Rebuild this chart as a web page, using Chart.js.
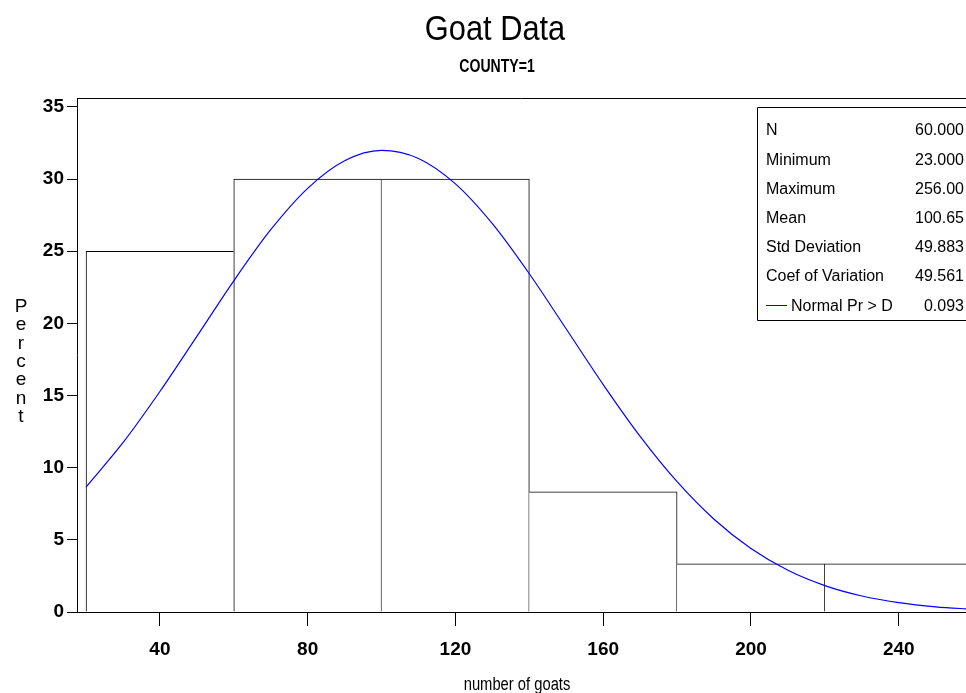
<!DOCTYPE html>
<html>
<head>
<meta charset="utf-8">
<script src="https://cdn.jsdelivr.net/npm/chart.js@4.4.1/dist/chart.umd.min.js"></script>
<style>
html,body{margin:0;padding:0;background:#fff;}
#wrap{width:966px;height:693px;}
</style>
</head>
<body>
<div id="wrap"><canvas id="c" width="966" height="693"></canvas></div>
<script>
// ---- data ----
const binMidpoints = [40, 80, 120, 160, 200, 240];
const binPercents = [25, 30, 30, 8.333, 3.333, 3.333];
const curveX = [20, 30, 40, 50, 60, 70, 80, 90, 100, 110, 120, 130, 140, 150, 160, 170, 180, 190, 200, 210, 220, 230, 240, 250, 260];
const curveY = [8.66, 11.73, 15.28, 19.10, 22.95, 26.49, 29.36, 31.27, 31.99, 31.43, 29.67, 26.91, 23.44, 19.61, 15.76, 12.17, 9.03, 6.43, 4.40, 2.89, 1.83, 1.11, 0.65, 0.36, 0.19];
const xTickValues = [40, 80, 120, 160, 200, 240];
const yTickValues = [0, 5, 10, 15, 20, 25, 30, 35];
const statLabels = ["N", "Minimum", "Maximum", "Mean", "Std Deviation", "Coef of Variation", "Normal Pr > D"];
const statValues = ["60.000", "23.000", "256.00", "100.65", "49.883", "49.561", "0.093"];
const titleText = "Goat Data";
const subtitleText = "COUNTY=1";
const xAxisTitle = "number of goats";
const yAxisTitle = "Percent";

function drawScaledText(ctx, text, x, y, font, sx, align) {
  ctx.save();
  ctx.font = font;
  ctx.fillStyle = "#000";
  ctx.textBaseline = "alphabetic";
  ctx.textAlign = align || "center";
  ctx.translate(x, y);
  ctx.scale(sx, 1);
  ctx.fillText(text, 0, 0);
  ctx.restore();
}

const decor = {
  id: "decor",
  afterDraw(chart) {
    const ctx = chart.ctx;
    const a = chart.chartArea;
    ctx.save();
    ctx.strokeStyle = "#000";
    ctx.lineWidth = 1;
    ctx.beginPath();
    ctx.moveTo(a.left, Math.round(a.top) + 0.5);
    ctx.lineTo(a.right, Math.round(a.top) + 0.5);
    ctx.stroke();
    ctx.restore();

    drawScaledText(ctx, titleText, 495, 40, "35px 'Liberation Sans'", 0.88, "center");
    drawScaledText(ctx, subtitleText, 497, 72, "bold 19px 'Liberation Sans'", 0.74, "center");
    drawScaledText(ctx, xAxisTitle, 517, 690, "18px 'Liberation Sans'", 0.82, "center");

    ctx.save();
    ctx.font = "19px 'Liberation Sans'";
    ctx.fillStyle = "#000";
    ctx.textAlign = "center";
    ctx.textBaseline = "alphabetic";
    yAxisTitle.split("").forEach((ch, i) => ctx.fillText(ch, 21, 312 + i * 18.3));
    ctx.restore();

    const bx = 757.5, by = 107.5, bb = 320.5;
    ctx.save();
    ctx.strokeStyle = "#000";
    ctx.lineWidth = 1;
    ctx.fillStyle = "#fff";
    ctx.fillRect(bx, by, chart.width - bx, bb - by);
    ctx.beginPath();
    ctx.moveTo(chart.width, by);
    ctx.lineTo(bx, by);
    ctx.lineTo(bx, bb);
    ctx.lineTo(chart.width, bb);
    ctx.stroke();
    ctx.font = "16px 'Liberation Sans'";
    ctx.fillStyle = "#000";
    ctx.textBaseline = "middle";
    statLabels.forEach((lab, i) => {
      const y = 131 + i * 29.2;
      ctx.textAlign = "left";
      if (i === statLabels.length - 1) {
        ctx.save();
        ctx.strokeStyle = "#0000ff";
        ctx.beginPath();
        ctx.moveTo(766, Math.round(y) - 0.5);
        ctx.lineTo(787, Math.round(y) - 0.5);
        ctx.stroke();
        ctx.restore();
        ctx.fillText(lab, 791, y);
      } else {
        ctx.fillText(lab, 766, y);
      }
      ctx.textAlign = "right";
      ctx.fillText(statValues[i], 964, y);
    });
    ctx.restore();
  }
};

const barBorder = (c) => {
  const i = c.dataIndex;
  const v = binPercents;
  const left = (i === 0 || v[i] > v[i - 1]) ? 1 : 0;
  const right = (i === v.length - 1 || v[i] >= v[i + 1]) ? 1 : 0;
  return { top: 1, left: left, right: right, bottom: 0 };
};

new Chart(document.getElementById("c"), {
  data: {
    datasets: [
      {
        type: "line",
        data: curveX.map((x, i) => ({ x: x, y: curveY[i] })),
        borderColor: "#0000ff",
        borderWidth: 1.2,
        pointRadius: 0,
        cubicInterpolationMode: "monotone",
        fill: false,
        order: 0
      },
      {
        type: "bar",
        data: binMidpoints.map((x, i) => ({ x: x, y: binPercents[i] })),
        backgroundColor: "#fff",
        borderColor: "#000",
        borderWidth: barBorder,
        borderSkipped: false,
        barPercentage: 1,
        categoryPercentage: 1,
        order: 1
      }
    ]
  },
  options: {
    responsive: false,
    devicePixelRatio: 1,
    animation: false,
    events: [],
    layout: { padding: { top: 98, left: 0, right: 0, bottom: 0 } },
    plugins: { legend: { display: false }, tooltip: { enabled: false }, title: { display: false } },
    scales: {
      x: {
        type: "linear",
        offset: false,
        min: 17.56,
        max: 258.2,
        afterBuildTicks: (s) => { s.ticks = xTickValues.map(v => ({ value: v })); },
        afterFit: (s) => { s.height = 81; },
        grid: { offset: false, drawOnChartArea: false, drawTicks: true, tickLength: 14, color: "#000", tickWidth: 1 },
        border: { display: true, color: "#000", width: 1 },
        ticks: { color: "#000", font: { family: "'Liberation Sans'", size: 19, weight: "bold" }, padding: 12, maxRotation: 0 }
      },
      y: {
        type: "linear",
        min: 0,
        max: 35.62,
        afterBuildTicks: (s) => { s.ticks = yTickValues.map(v => ({ value: v })); },
        afterFit: (s) => { s.width = 77; },
        grid: { drawOnChartArea: false, drawTicks: true, tickLength: 10, color: "#000", tickWidth: 1 },
        border: { display: true, color: "#000", width: 1 },
        ticks: { color: "#000", font: { family: "'Liberation Sans'", size: 19, weight: "bold" }, padding: 3 }
      }
    }
  },
  plugins: [decor]
});
</script>
</body>
</html>
